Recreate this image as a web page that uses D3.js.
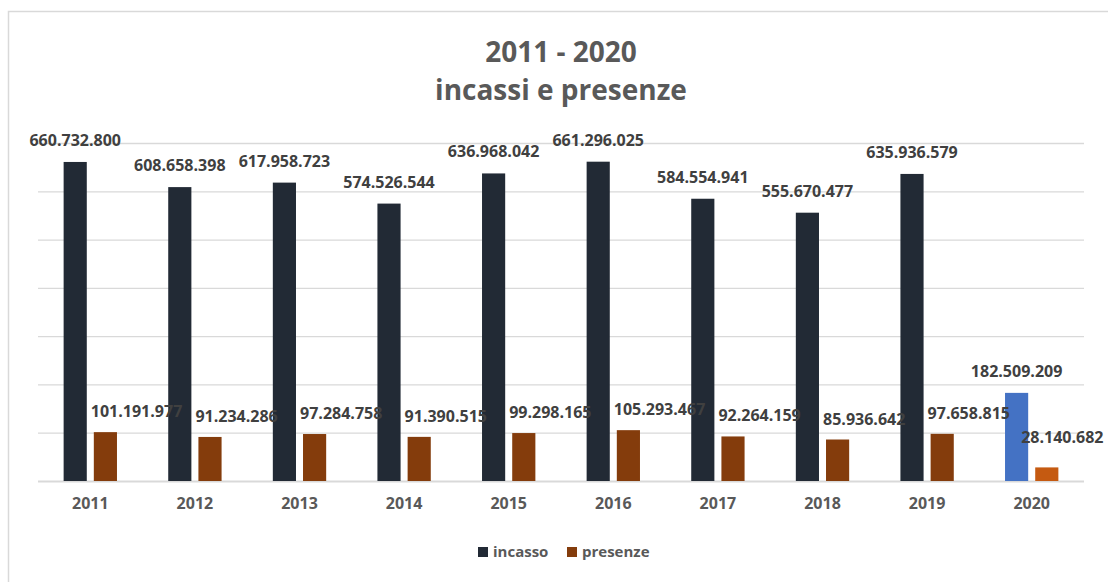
<!DOCTYPE html>
<html>
<head>
<meta charset="utf-8">
<script src="https://cdn.jsdelivr.net/npm/d3@7"></script>
<style>
  html, body { margin: 0; padding: 0; background: #fff; }
  svg { display: block; font-family: "Open Sans", sans-serif; }
</style>
</head>
<body>
<svg id="chart" width="1108" height="582"></svg>
<script>
// data
const years = ["2011", "2012", "2013", "2014", "2015", "2016", "2017", "2018", "2019", "2020"];
const incasso = [660732800, 608658398, 617958723, 574526544, 636968042, 661296025, 584554941, 555670477, 635936579, 182509209];
const presenze = [101191977, 91234286, 97284758, 91390515, 99298165, 105293467, 92264159, 85936642, 97658815, 28140682];
const seriesNames = ["incasso", "presenze"];
const yTicks = [0, 100e6, 200e6, 300e6, 400e6, 500e6, 600e6, 700e6];

const colors = { incasso: "#222a35", presenze: "#843c0c" };
const highlight = { incasso: "#4472c4", presenze: "#c55a11" }; // 2020 is coloured differently
const textColor = "#595959";
const labelColor = "#404040";
const gridColor = "#d9d9d9";

const width = 1108, height = 582;
const margins = { top: 143, right: 24, bottom: 101, left: 38 };

const fmt = v => d3.format(",")(v).replace(/,/g, ".");

const svg = d3.select("#chart");

// outer frame (only left and top edges are visible in the picture)
svg.append("path")
    .attr("d", `M8.5,${height}V11.5H${width}`)
    .attr("fill", "none")
    .attr("stroke", gridColor)
    .attr("stroke-width", 1.5);

const x0 = d3.scaleBand()
    .domain(years)
    .range([margins.left, width - margins.right])
    .paddingInner(0.49)
    .paddingOuter(0.245);

const x1 = d3.scaleBand()
    .domain(seriesNames)
    .range([0, x0.bandwidth()])
    .paddingInner(0.233);

const y = d3.scaleLinear()
    .domain([0, 700e6])
    .range([height - margins.bottom, margins.top]);

// gridlines
const yAxis = d3.axisLeft(y)
    .tickValues(yTicks)
    .tickSize(-(width - margins.left - margins.right))
    .tickFormat("");

svg.append("g")
    .attr("class", "grid")
    .attr("transform", `translate(${margins.left},0)`)
    .call(yAxis)
    .call(g => g.select(".domain").remove())
    .call(g => g.selectAll(".tick line")
        .attr("stroke", gridColor)
        .attr("stroke-width", d => d === 0 ? 2 : 1.3));

// bars
const rows = years.map((yr, i) => ({ year: yr, i, incasso: incasso[i], presenze: presenze[i] }));
const last = years.length - 1;

const groups = svg.append("g")
    .selectAll("g")
    .data(rows)
    .join("g")
    .attr("transform", d => `translate(${x0(d.year)},0)`);

groups.selectAll("rect")
    .data(d => seriesNames.map(s => ({ s, v: d[s], i: d.i })))
    .join("rect")
    .attr("x", d => x1(d.s))
    .attr("width", x1.bandwidth())
    .attr("y", d => y(d.v))
    .attr("height", d => y(0) - y(d.v))
    .attr("fill", d => d.i === last ? highlight[d.s] : colors[d.s]);

// data labels (drawn after all bars so they sit on top)
const labels = svg.append("g")
    .attr("font-size", 16)
    .attr("font-weight", 700)
    .attr("fill", labelColor);

labels.selectAll("text.inc")
    .data(rows)
    .join("text")
    .attr("class", "inc")
    .attr("x", d => x0(d.year) + x1("incasso") + x1.bandwidth() / 2)
    .attr("y", d => y(d.incasso) - 16)
    .attr("text-anchor", "middle")
    .text(d => fmt(d.incasso));

labels.selectAll("text.pre")
    .data(rows)
    .join("text")
    .attr("class", "pre")
    .attr("x", d => x0(d.year) + x1("presenze") - (d.i === last ? 14 : 3))
    .attr("y", d => y(d.presenze) - (d.i === last ? 24 : 15))
    .attr("text-anchor", "start")
    .text(d => fmt(d.presenze));

// x axis labels
const xAxis = d3.axisBottom(x0).tickSize(0).tickPadding(17);
svg.append("g")
    .attr("transform", `translate(0,${height - margins.bottom})`)
    .call(xAxis)
    .call(g => g.select(".domain").remove())
    .call(g => g.selectAll("text")
        .attr("font-family", "Open Sans, sans-serif")
        .attr("font-size", 16)
        .attr("font-weight", 700)
        .attr("fill", textColor));

// title
const title = svg.append("text")
    .attr("text-anchor", "middle")
    .attr("font-size", 28)
    .attr("font-weight", 700)
    .attr("fill", textColor);
title.append("tspan").attr("x", 561).attr("y", 62).text("2011 - 2020");
title.append("tspan").attr("x", 561).attr("y", 100).text("incassi e presenze");

// legend
const legend = svg.append("g")
    .attr("transform", "translate(478,547)")
    .selectAll("g")
    .data(seriesNames)
    .join("g")
    .attr("transform", (d, i) => `translate(${i * 89},0)`);

legend.append("rect")
    .attr("width", 10)
    .attr("height", 10)
    .attr("fill", d => colors[d]);

legend.append("text")
    .attr("x", 15)
    .attr("y", 10)
    .attr("font-size", 15)
    .attr("font-weight", 700)
    .attr("fill", textColor)
    .text(d => d);
</script>
</body>
</html>
